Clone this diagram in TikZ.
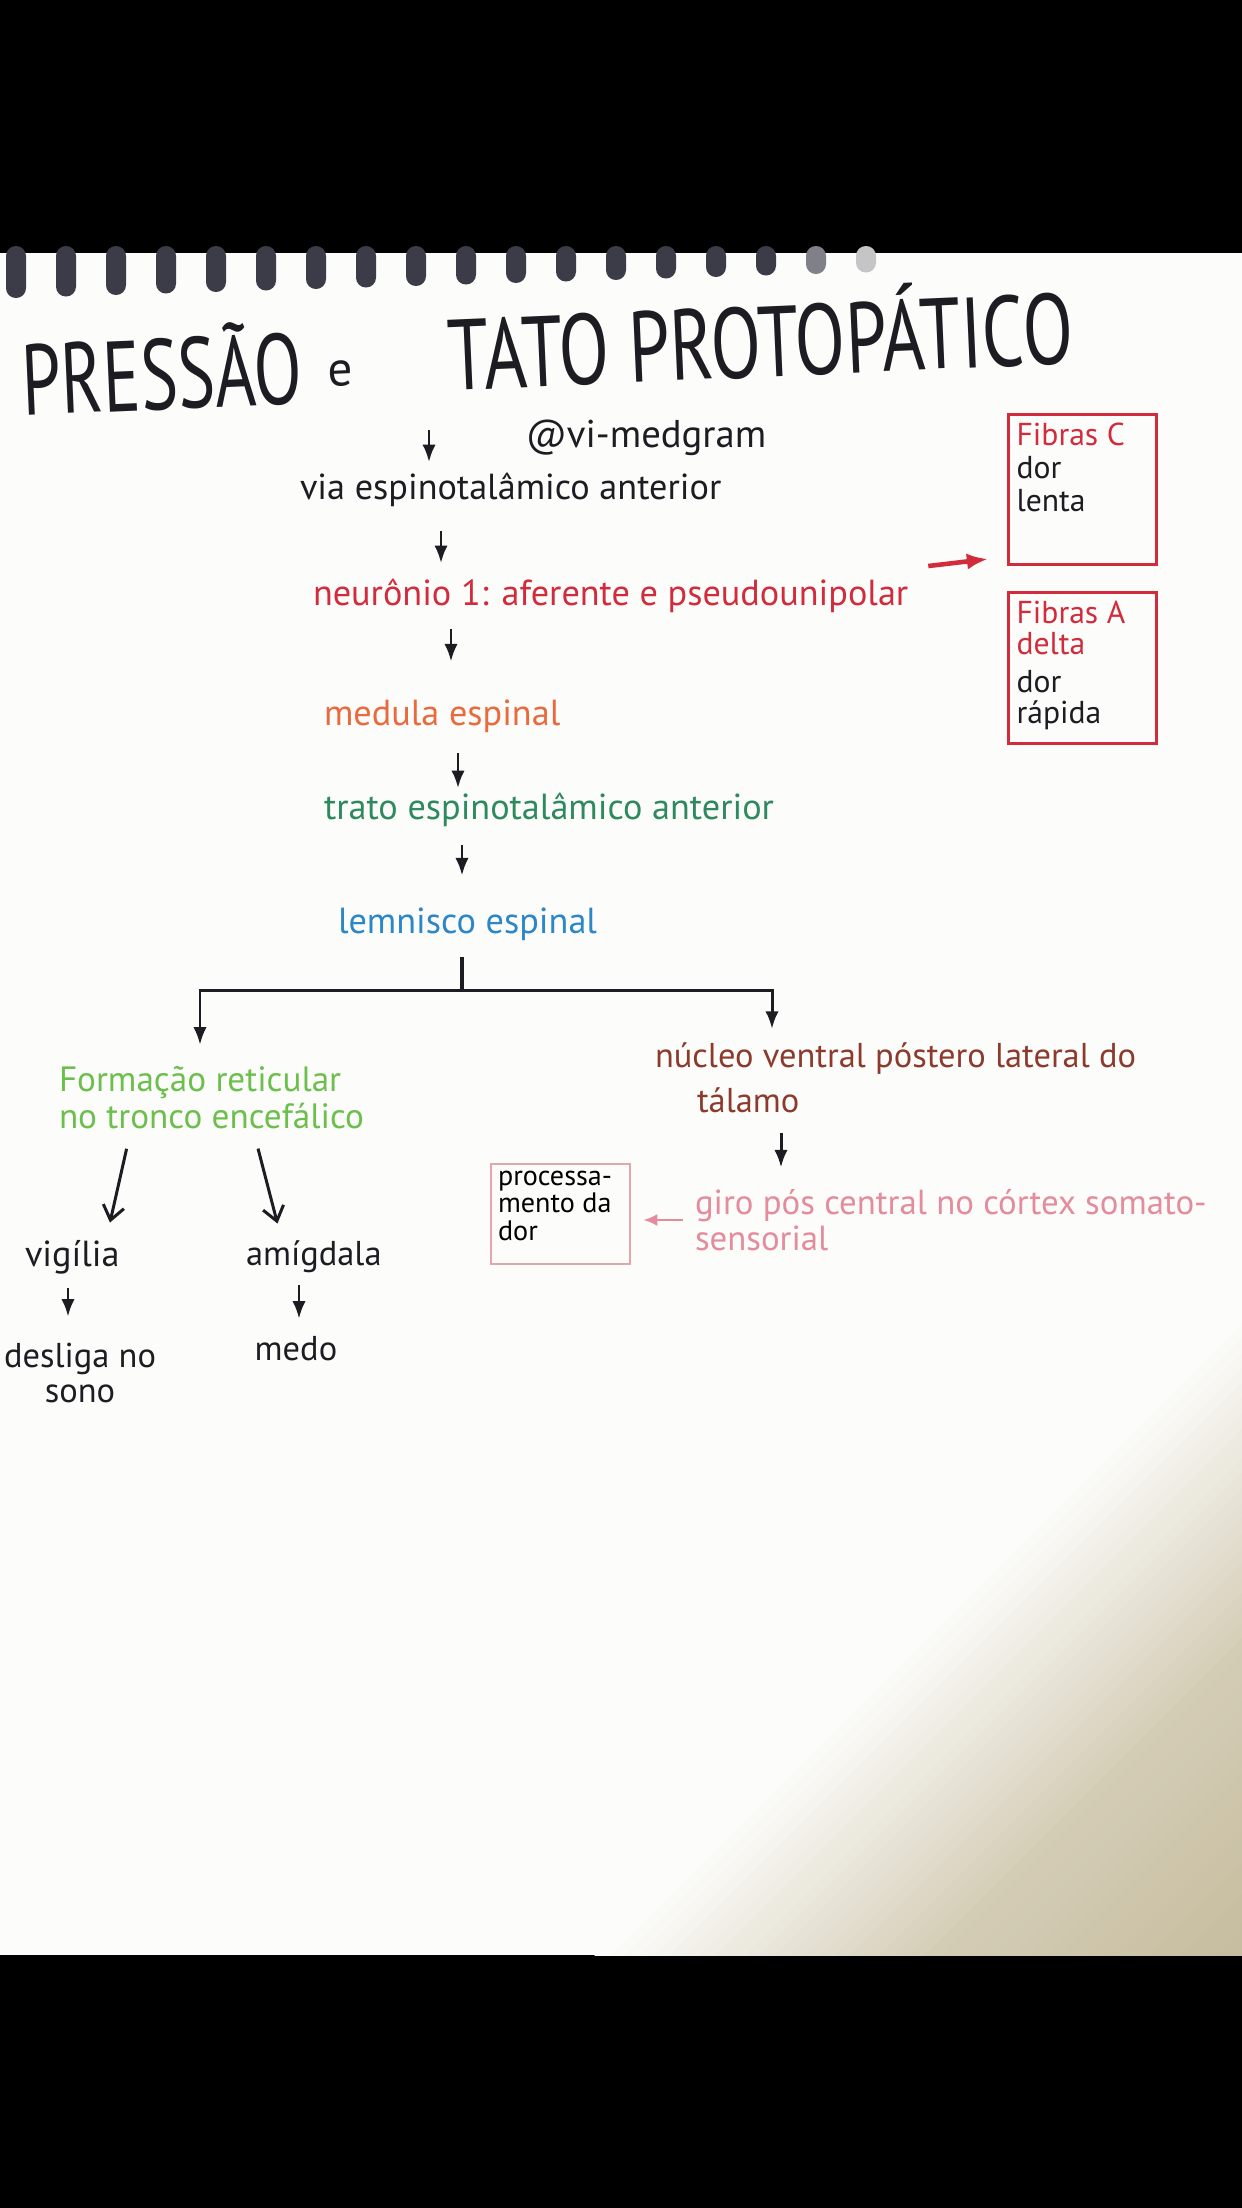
\documentclass[tikz,border=0pt]{standalone}
\usepackage{fontspec}
\setmainfont{PT Sans}
\usepackage{graphicx}
\usetikzlibrary{arrows.meta}
\definecolor{ink}{HTML}{1C1C22}
\definecolor{redink}{HTML}{D22C3C}
\definecolor{orangeink}{HTML}{EA6A3E}
\definecolor{greenink}{HTML}{2E8A5E}
\definecolor{blueink}{HTML}{2C87C8}
\definecolor{limeink}{HTML}{6CBF4C}
\definecolor{brownink}{HTML}{8C3A2C}
\definecolor{pinkink}{HTML}{E58C9C}
\definecolor{pinkbox}{HTML}{E6A4AC}
\definecolor{paper}{HTML}{FCFCFA}
\definecolor{beige}{RGB}{196,186,155}
\definecolor{ring}{HTML}{3C3C48}
\begin{document}
\begin{tikzpicture}[x=0.01cm,y=-0.01cm,
  txt/.style={inner sep=0pt, outer sep=0pt, font=\fontsize{10.3}{11.5}\selectfont, text=ink},
  ttl/.style={inner sep=0pt, outer sep=0pt, font=\fontsize{28.5}{30}\selectfont, text=ink, rotate=2.5},
  arr/.style={draw=ink, line width=0.85pt, -{Latex[length=5pt,width=3.8pt]}},
  vee/.style={draw=ink, line width=0.85pt, -{Straight Barb[length=4pt,width=6pt]}},
  redarr/.style={draw=redink, line width=1.3pt, -{Latex[length=6pt,width=4.6pt]}},
  pinkarr/.style={draw=pinkink, line width=0.75pt, -{Latex[length=4pt,width=3.4pt]}},
  fibbox/.style={draw=redink, line width=0.9pt, rectangle, inner sep=0.08cm, anchor=north west},
  procbox/.style={draw=pinkbox, line width=0.6pt, rectangle, inner sep=0.07cm, anchor=north west}]
\useasboundingbox (0,0) rectangle (1242,2208);
\fill[black] (0,0) rectangle (1242,2208);
\fill[paper] (0,253) rectangle (1242,1955);
% paper shadow (bottom right)
\begin{scope}
\clip (0,253) rectangle (1242,1955);
\foreach \i in {0,...,44}{
  \pgfmathsetmacro{\c}{2550+\i*15}
  \pgfmathtruncatemacro{\p}{\c<2880 ? (\c-2550)/330*72 : 72+(\c-2880)/317*25}
  \fill[beige!\p!paper] (\c-1000,1000) -- (\c-2400,2400) -- (\c+16-2400,2400) -- (\c+16-1000,1000) -- cycle;
}
\end{scope}
% spiral rings
\foreach \k in {0,...,17}{
  \pgfmathsetmacro{\xx}{16+50*\k}
  \pgfmathsetmacro{\hh}{298-1.5*\k}
  \pgfmathtruncatemacro{\sh}{\k<16 ? 100 : (\k<17 ? 65 : 30)}
  \fill[ring!\sh!white, rounded corners=2.8pt] (\xx-10,246) rectangle (\xx+10,\hh);
}
% title
\node[ttl] (pressao) at (162,368) {\scalebox{0.7}[1]{PRESSÃO}};
\node[ttl, font=\fontsize{14}{15}\selectfont] (econj) at (340,374) {e};
\node[ttl] (tato) at (760,334) {\scalebox{0.735}[1]{TATO PROTOPÁTICO}};
\node[txt, font=\fontsize{11}{12}\selectfont] (handle) at (646,438) {@vi-medgram};
% main chain
\node[txt, anchor=west] (via) at (300,490) {via espinotalâmico anterior};
\node[txt, anchor=west, text=redink] (neuron) at (313,596) {neurônio 1: aferente e pseudounipolar};
\node[txt, anchor=west, text=orangeink] (medula) at (324,716) {medula espinal};
\node[txt, anchor=west, text=greenink] (trato) at (324,810) {trato espinotalâmico anterior};
\node[txt, anchor=west, text=blueink] (lem) at (338,924) {lemnisco espinal};
% fiber boxes
\node[fibbox] (fibc) at (1007,413) {\parbox[t][1.34cm][t]{1.32cm}{\raggedright\fontsize{9}{9.4}\selectfont\color{redink}Fibras C\\\color{ink}dor\\lenta}};
\node[fibbox] (fiba) at (1007,591) {\parbox[t][1.35cm][t]{1.32cm}{\raggedright\fontsize{9}{8.8}\selectfont\color{redink}Fibras A\\delta\\[2.2pt]\color{ink}dor\\rápida}};
\coordinate (fibtip) at (988,559);
% branches
\node[txt, anchor=west, align=left, text=limeink, font=\fontsize{10}{10.5}\selectfont] (form) at (59,1098) {Formação reticular\\no tronco encefálico};
\node[txt, anchor=west, align=left, text=brownink, font=\fontsize{9.8}{12.8}\selectfont] (nuc) at (655,1078) {núcleo ventral póstero lateral do\\\hspace*{0.42cm}tálamo};
\node[txt, anchor=west, align=left, text=pinkink, font=\fontsize{9.9}{8.8}\selectfont] (giro) at (695,1220) {giro pós central no córtex somato-\\sensorial};
\node[procbox] (proc) at (490,1163) {\parbox[t][0.86cm][t]{1.25cm}{\raggedright\fontsize{8}{7.8}\selectfont processa-\\mento da\\dor}};
\node[txt, anchor=west] (vig) at (25,1257) {vigília};
\node[txt, align=center, font=\fontsize{9.8}{10.2}\selectfont] (des) at (80,1373) {desliga no\\sono};
\node[txt, anchor=west, font=\fontsize{9.8}{11}\selectfont] (amig) at (246,1257) {amígdala};
\node[txt, font=\fontsize{9.8}{11}\selectfont] (medo) at (296,1349) {medo};
% connectors
\coordinate (a1s) at (429,430);
\draw[arr, shorten >=0.11cm] (a1s) -- (via.north -| a1s);
\draw[arr, shorten <=0.24cm, shorten >=0.16cm] (via.south -| 441,0) -- (neuron.north -| 441,0);
\draw[redarr] ([shift={(20,-30)}]neuron.east) -- (fibtip);
\draw[arr, shorten <=0.16cm, shorten >=0.38cm] (neuron.south -| 451,0) -- (medula.north -| 451,0);
\draw[arr, shorten <=0.21cm, shorten >=0.05cm] (medula.south -| 458,0) -- (trato.north -| 458,0);
\draw[arr, shorten <=0.18cm, shorten >=0.32cm] (trato.south -| 462,0) -- (lem.north -| 462,0);
\coordinate (split) at (462,990);
\coordinate (lt) at (200,990);
\coordinate (rt) at (772,990);
\draw[ink, line width=0.9pt, shorten <=0.17cm] (lem.south -| split) -- (split);
\draw[arr, shorten >=0.22cm] (split) -- (lt) -- (form.north -| lt);
\draw[arr, shorten >=0.14cm] (split) -- (rt) -- (nuc.north -| rt);
\draw[arr, shorten <=0.2cm, shorten >=0.22cm] (nuc.south -| 781,0) -- (giro.north -| 781,0);
\draw[pinkarr, shorten <=0.12cm, shorten >=0.12cm] (giro.west) -- (proc.east |- giro.west);
\draw[vee, shorten <=0.2cm, shorten >=0.18cm] (form.south -| 131,0) -- (vig.north -| 106,0);
\draw[vee, shorten <=0.2cm, shorten >=0.18cm] (form.south -| 253,0) -- (amig.north -| 282,0);
\draw[arr, shorten <=0.14cm, shorten >=0.26cm] (vig.south -| 68,0) -- (des.north -| 68,0);
\draw[arr, shorten <=0.12cm, shorten >=0.18cm] (amig.south -| 299,0) -- (medo.north -| 299,0);
\end{tikzpicture}
\end{document}
